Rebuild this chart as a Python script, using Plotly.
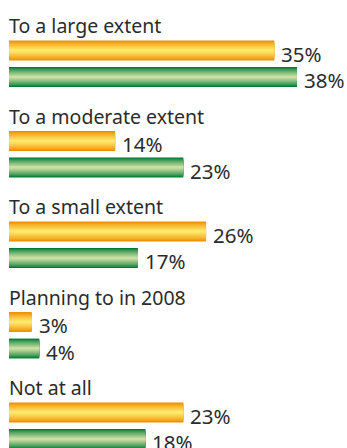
import plotly.graph_objects as go

categories = ["To a large extent", "To a moderate extent", "To a small extent",
              "Planning to in 2008", "Not at all"]
orange_values = [35, 14, 26, 3, 23]
green_values = [38, 23, 17, 4, 18]

# vertical layout in group units (one unit per category block)
LABEL_OFF = 0.282
ORANGE_OFF = 0.558
GREEN_OFF = 0.851
BAR_W = 0.22


def blend(c1, c2, t):
    return "#%02x%02x%02x" % tuple(round(a + (b - a) * t) for a, b in zip(c1, c2))


ORANGE_EDGE, ORANGE_MID = (0xEE, 0x8C, 0x00), (0xFF, 0xE8, 0x6A)
GREEN_EDGE, GREEN_MID = (0x00, 0x7A, 0x33), (0xC8, 0xDE, 0xA2)
STEPS = 10

fig = go.Figure()


def add_gradient_bars(values, offset, edge, mid):
    ys = [i + offset for i in range(len(values))]
    for s in range(STEPS):
        t = s / (STEPS - 1)
        width = BAR_W * (1 - 0.9 * t)
        fig.add_trace(go.Bar(
            x=values, y=ys, orientation="h", width=width,
            marker=dict(color=blend(edge, mid, t ** 0.8), line=dict(width=0)),
            hoverinfo="skip", showlegend=False,
        ))


add_gradient_bars(orange_values, ORANGE_OFF, ORANGE_EDGE, ORANGE_MID)
add_gradient_bars(green_values, GREEN_OFF, GREEN_EDGE, GREEN_MID)

TITLE_FONT = dict(family="Noto Sans", size=19.5, color="#2b2b2b")
VALUE_FONT = dict(family="Noto Sans", size=20.5, color="#2b2b2b")

for i, cat in enumerate(categories):
    fig.add_annotation(x=0, y=i + LABEL_OFF, text=cat, showarrow=False,
                       xanchor="left", yanchor="middle", xshift=-2, font=TITLE_FONT)
    fig.add_annotation(x=orange_values[i], y=i + ORANGE_OFF, text=f"{orange_values[i]}%",
                       showarrow=False, xanchor="left", yanchor="middle",
                       xshift=5, yshift=-3, font=VALUE_FONT)
    fig.add_annotation(x=green_values[i], y=i + GREEN_OFF, text=f"{green_values[i]}%",
                       showarrow=False, xanchor="left", yanchor="middle",
                       xshift=5, yshift=-3, font=VALUE_FONT)

fig.update_layout(
    width=347, height=448,
    margin=dict(l=9, r=0, t=0, b=0),
    paper_bgcolor="white", plot_bgcolor="white",
    barmode="overlay",
    xaxis=dict(range=[0, 44.6], visible=False, fixedrange=True),
    yaxis=dict(range=[448 / 90.5, 0], visible=False, fixedrange=True),
)

fig.write_html("out.html")
